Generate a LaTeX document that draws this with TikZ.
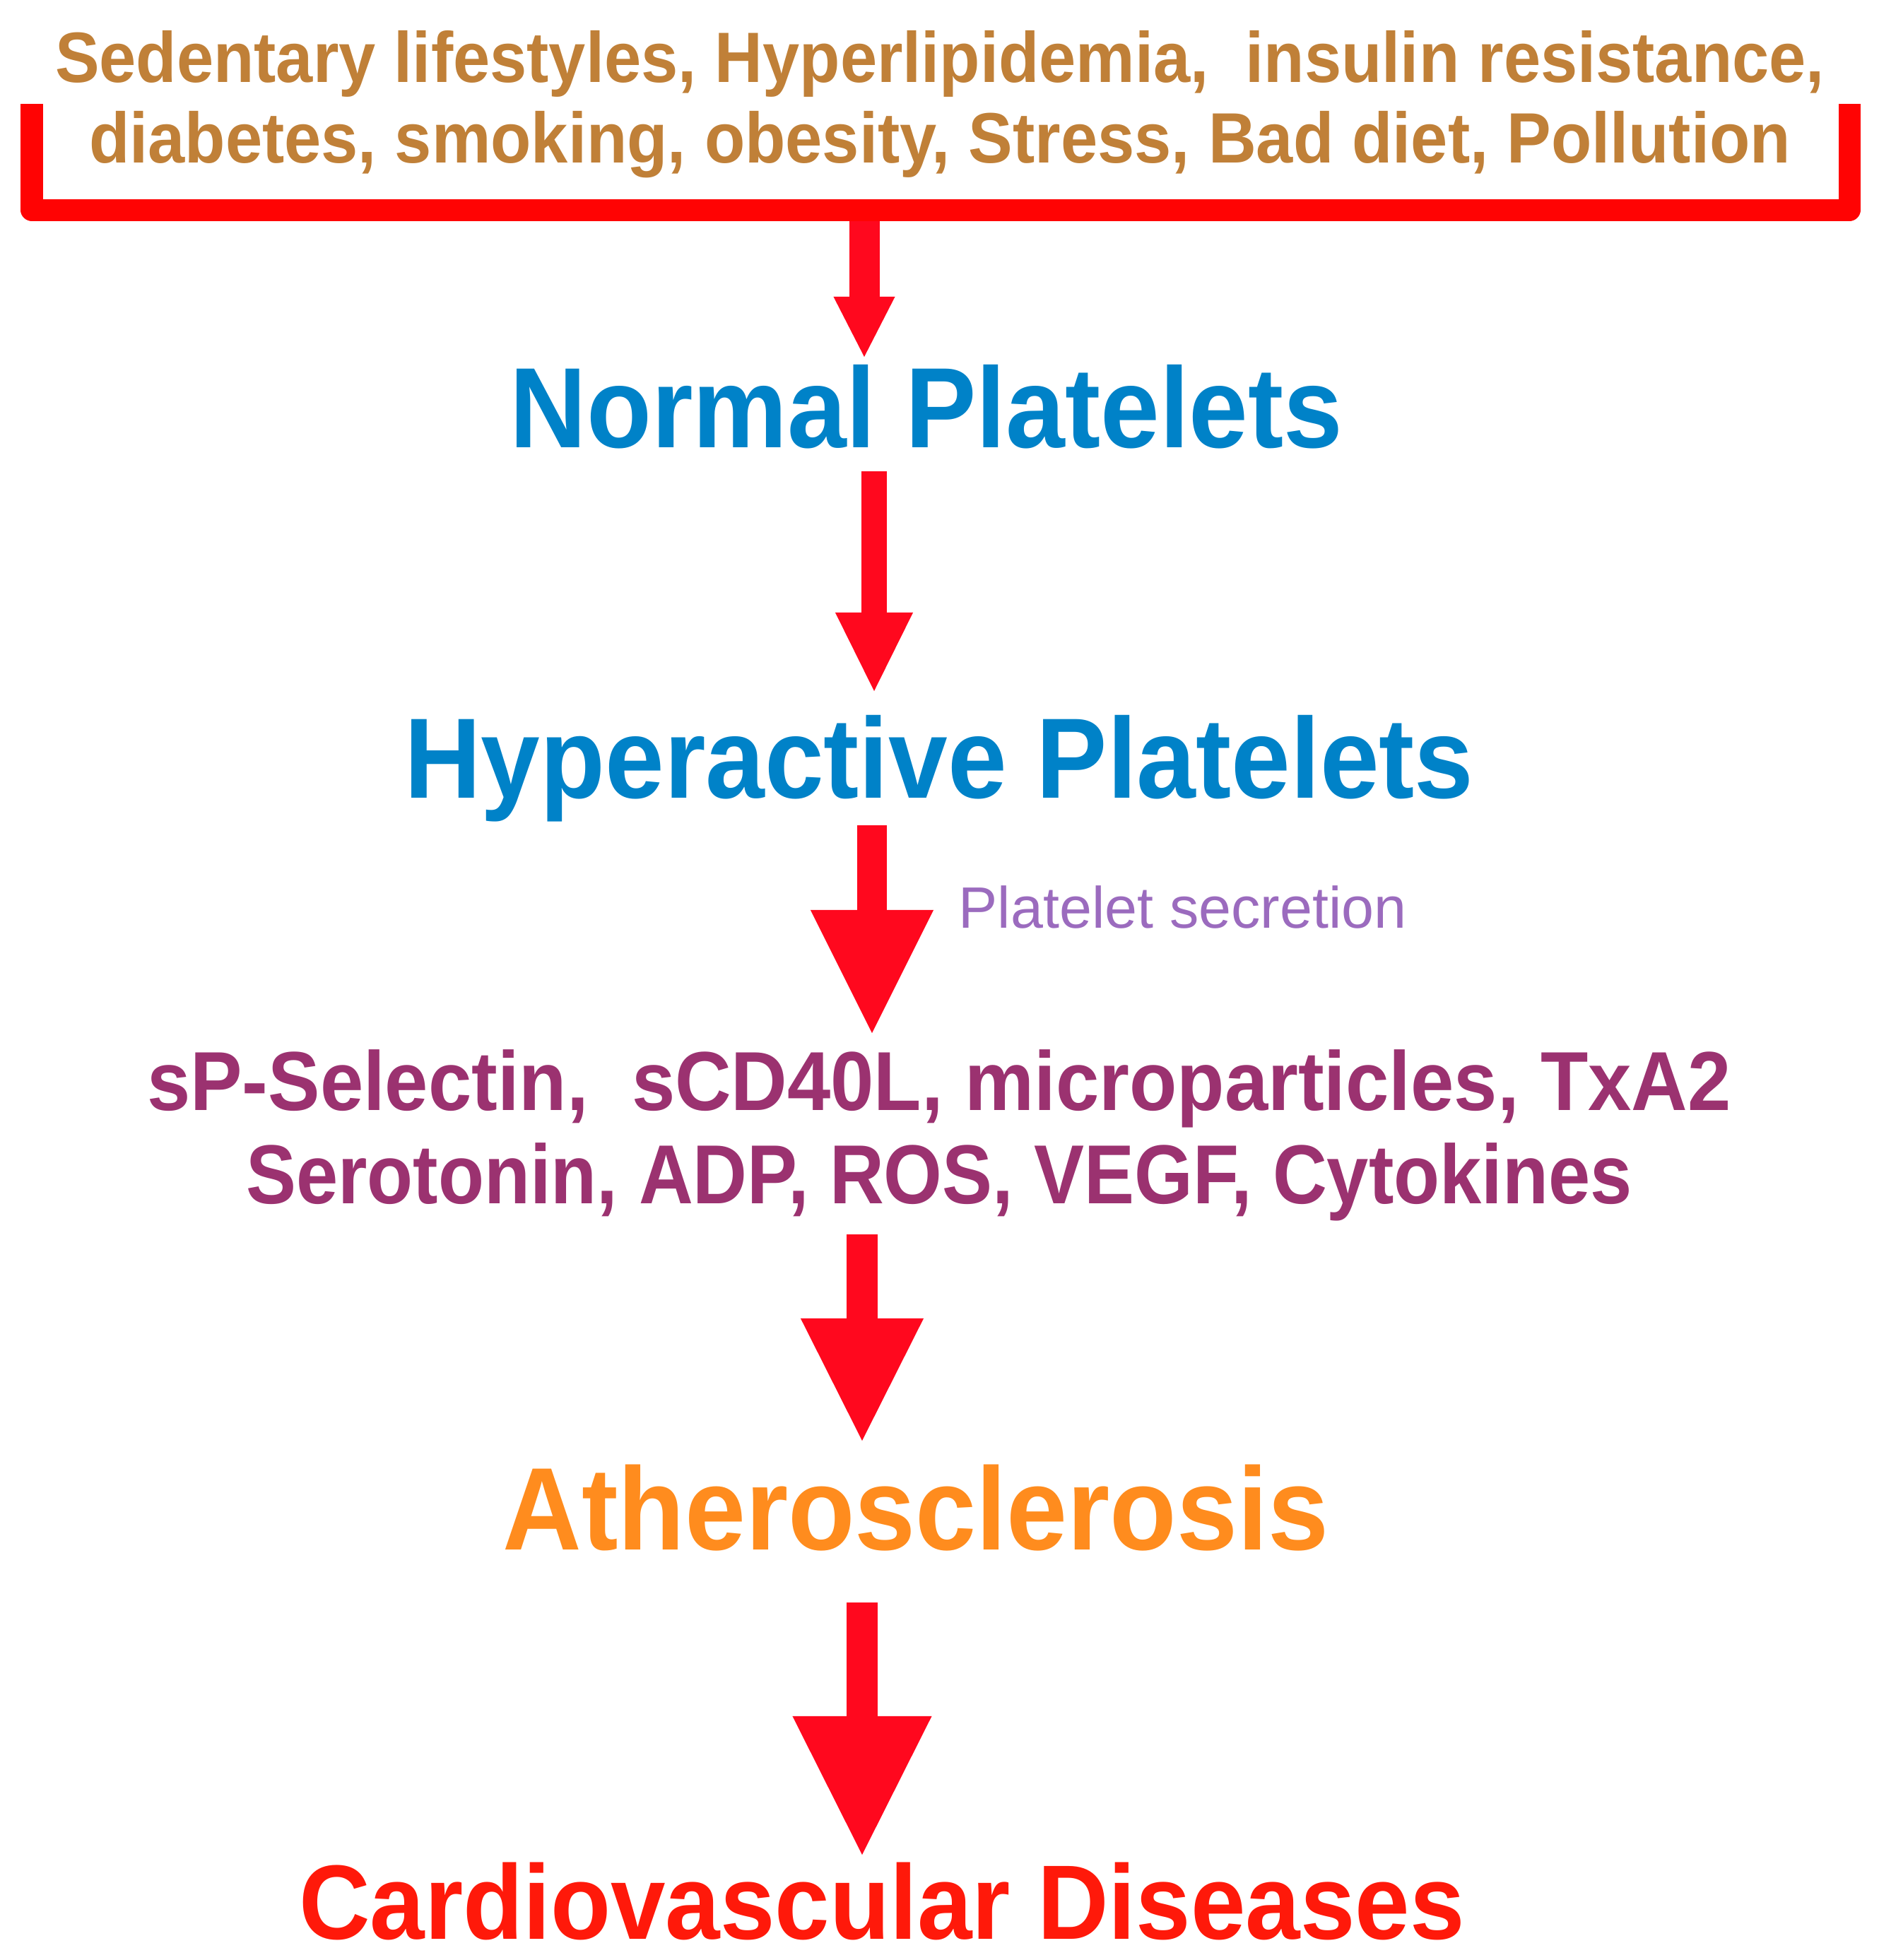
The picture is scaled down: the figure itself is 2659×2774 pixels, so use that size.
\documentclass[tikz,border=0pt]{standalone}
\usepackage{fontspec}
\setmainfont{Liberation Sans}
\newfontfamily\condfont[FakeStretch=0.93]{Liberation Sans}
\newfontfamily\tightfont[FakeStretch=0.898]{Liberation Sans}
\usetikzlibrary{arrows.meta,positioning}

\definecolor{riskbrown}{RGB}{192,128,56}
\definecolor{plblue}{RGB}{0,130,200}
\definecolor{secpurple}{RGB}{155,107,190}
\definecolor{medmag}{RGB}{155,50,112}
\definecolor{athorange}{RGB}{255,140,30}
\definecolor{cvdred}{RGB}{255,25,10}
\definecolor{brred}{RGB}{255,3,3}
\definecolor{arrred}{RGB}{255,8,30}

\begin{document}
\begin{tikzpicture}[x=0.01cm, y=-0.01cm,
      every node/.style={inner sep=0pt, anchor=base},
      big/.style={font=\condfont\bfseries\fontsize{#1}{#1}\selectfont},
      % shaft width, head width, head length (pt)
      fat/.style n args={3}{draw=arrred, line width=#1pt,
        -{Triangle[width=#2pt, length=#3pt, line width=0pt]}},
      ]
    \useasboundingbox (0,0) rectangle (2659,2774);

    % multi-line nodes: base is the last line
    \node (risk) [align=center, text=riskbrown,
      font=\condfont\bfseries\fontsize{28.7}{32.2}\selectfont] at (1330,230)
      {Sedentary lifestyles, Hyperlipidemia,\ \ insulin resistance,\\
      diabetes, smoking, obesity, Stress, Bad diet, Pollution};

    % bracket under the risk factors
    \draw [brred, line width=8.82pt, line join=round]
      (45,147) -- (45,297) -- (2617,297) -- (2617,147);

    \node (norm) [text=plblue, big=46] at (1311,633) {Normal Platelets};
    \node (hyper) [text=plblue, big=46] at (1329,1129) {Hyperactive Platelets};
    \node (secr) [anchor=base west, text=secpurple,
      font=\fontsize{23.5}{28}\selectfont] at (1356,1313) {Platelet secretion};
    \node (medi) [align=center, text=medmag,
      font=\condfont\bfseries\fontsize{33.7}{37.3}\selectfont] at (1329,1703)
      {sP-Selectin,\ \ sCD40L, microparticles, TxA2\\
      {\tightfont\bfseries Serotonin, ADP, ROS, VEGF, Cytokines}};
    \node (athero) [text=athorange, big=47.3] at (1296,2193) {Atherosclerosis};
    \node (cvd) [text=cvdred, big=42.6] at (1248,2744) {Cardiovascular Diseases};

    \coordinate (brk) at (1223,313);
    \coordinate (norm-in) at (1223,505);
    \coordinate (norm-out) at (1237,667);
    \coordinate (hyper-in) at (1237,978);
    \coordinate (hyper-out) at (1234,1168);
    \coordinate (medi-in) at (1234,1462);
    \coordinate (medi-out) at (1220,1747);
    \coordinate (athero-in) at (1220,2039);
    \coordinate (athero-out) at (1220,2268);
    \coordinate (cvd-in) at (1220,2625);

    \draw [fat={12.23}{24.75}{24.18}] (brk) -- (norm-in);
    \draw [fat={10.24}{31.30}{31.58}] (norm-out) -- (hyper-in);
    \draw [fat={11.95}{49.51}{49.51}] (hyper-out) -- (medi-in);
    \draw [fat={12.52}{49.51}{49.22}] (medi-out) -- (athero-in);
    \draw [fat={12.52}{56.05}{55.77}] (athero-out) -- (cvd-in);
  \end{tikzpicture}
\end{document}
